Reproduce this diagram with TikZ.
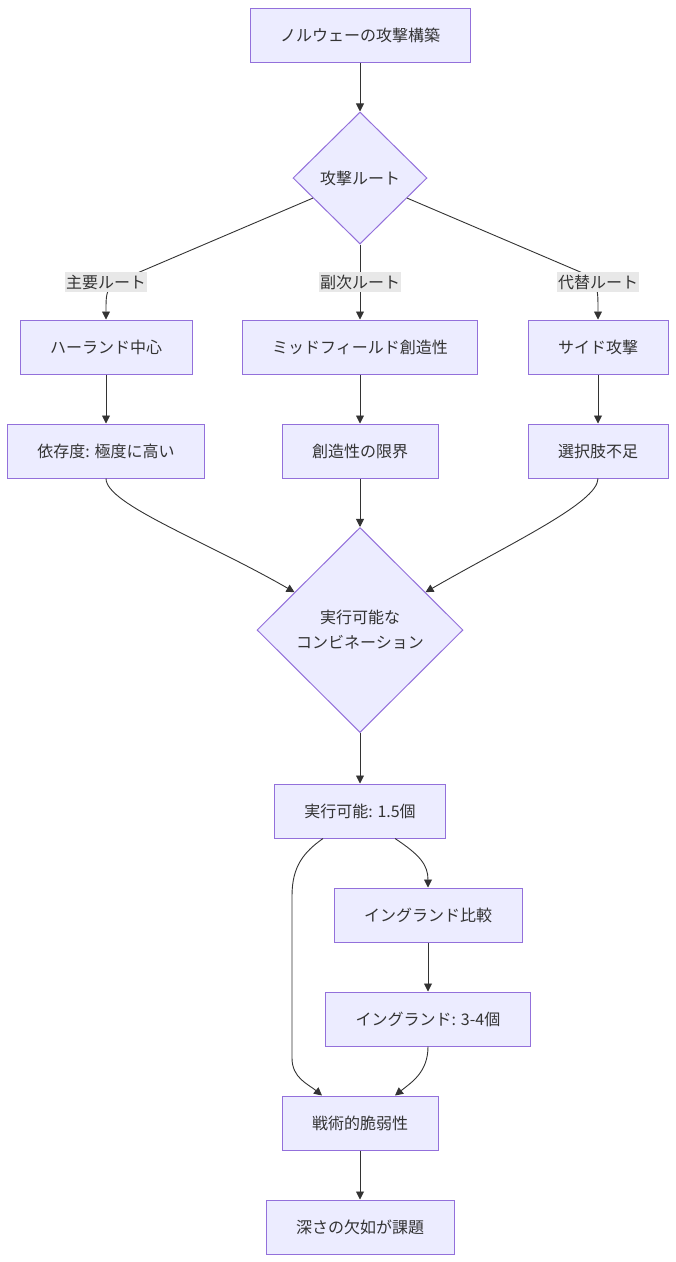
\documentclass[tikz,border=0pt]{standalone}
\usepackage{fontspec}
\newfontfamily\jpfont{Noto Sans CJK JP}
\usetikzlibrary{shapes.geometric,arrows.meta}

\begin{document}
\begin{tikzpicture}[x=1pt,y=-1pt,
  box/.style={draw=nodeline, fill=nodefill, line width=1pt, minimum height=54pt,
    inner xsep=30pt, inner ysep=0pt, text=textgray, font=\jpfont\fontsize{16}{19}\selectfont},
  choice/.style={diamond, draw=nodeline, fill=nodefill, line width=1pt, inner sep=0pt,
    align=center, text=textgray, font=\jpfont\fontsize{16}{25}\selectfont},
  lbl/.style={fill=labelgray, inner xsep=1pt, inner ysep=3pt, text=textgray,
    font=\jpfont\fontsize{16}{19}\selectfont},
  flow/.style={draw=linegray, line width=0.9pt, -{Triangle[length=8pt,width=8pt]}}]

% Colors
\definecolor{nodefill}{HTML}{ECECFF}
\definecolor{nodeline}{HTML}{9370DB}
\definecolor{linegray}{HTML}{333333}
\definecolor{textgray}{HTML}{333333}
\definecolor{labelgray}{HTML}{E8E8E8}

% Parameters
\def\xL{106}
\def\xM{360}
\def\xR{598}
\def\xG{428}

\useasboundingbox (0,0) rectangle (676,1262);

% Top
\node[box] (start) at (\xM,35) {ノルウェーの攻撃構築};
\node[choice, minimum width=134pt, minimum height=132pt] (route) at (\xM,178) {攻撃ルート};

% Three routes
\node[box] (haaland) at (\xL,347) {ハーランド中心};
\node[box] (midfield) at (\xM,347) {ミッドフィールド創造性};
\node[box] (side) at (\xR,347) {サイド攻撃};
\node[box] (depend) at (\xL,451) {依存度: 極度に高い};
\node[box] (limit) at (\xM,451) {創造性の限界};
\node[box] (options) at (\xR,451) {選択肢不足};

% Combinations
\node[choice, minimum width=206pt, minimum height=205pt] (combo) at (\xM,630) {実行可能な\\コンビネーション};
\node[box] (viable) at (\xM,811) {実行可能: 1.5個};
\node[box] (compare) at (\xG,915) {イングランド比較};
\node[box] (england) at (\xG,1019) {イングランド: 3-4個};
\node[box] (weak) at (\xM,1123) {戦術的脆弱性};
\node[box] (depth) at (\xM,1227) {深さの欠如が課題};

% Edges
\draw[flow] (start) -- (route);
\draw[flow] (route) -- (135,274) .. controls (\xL,287) .. (haaland.north);
\draw[flow] (route) -- (midfield);
\draw[flow] (route) -- (585,274) .. controls (\xR,287) .. (side.north);
\draw[flow] (haaland) -- (depend);
\draw[flow] (midfield) -- (limit);
\draw[flow] (side) -- (options);
\draw[flow] (depend.south) to[out=-90, in=150, out looseness=0.3, in looseness=1.2] (combo);
\draw[flow] (limit) -- (combo);
\draw[flow] (options.south) to[out=-90, in=30, out looseness=0.3, in looseness=1.2] (combo);
\draw[flow] (combo) -- (viable);
\draw[flow] ([xshift=35pt]viable.south) .. controls (420,855) and (\xG,865) .. (compare.north);
\draw[flow] ([xshift=-37pt]viable.south) .. controls (304,852) and (292,866) .. (292,896) -- (292,1058)
  .. controls (292,1078) and (308,1084) .. ([xshift=-38pt]weak.north);
\draw[flow] (compare) -- (england);
\draw[flow] (england.south) .. controls (\xG,1072) and (412,1082) .. ([xshift=35pt]weak.north);
\draw[flow] (weak) -- (depth);

% Edge labels
\node[lbl] (main) at (\xL,282) {主要ルート};
\node[lbl] (second) at (\xM,282) {副次ルート};
\node[lbl] (alt) at (\xR,282) {代替ルート};
\end{tikzpicture}
\end{document}
